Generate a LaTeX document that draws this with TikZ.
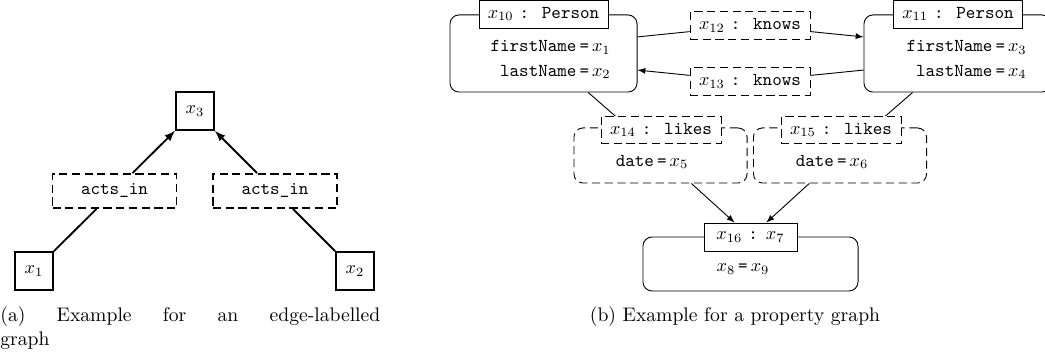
\documentclass[tikz,border=0pt]{standalone}
\usepackage{tikz}
\usetikzlibrary{arrows}
\tikzset{
  varbox/.style={draw, line width=1pt, minimum size=20.9pt, inner sep=0pt},
  edgebox/.style={draw, line width=1pt, dash pattern=on 4.5pt off 2.5pt, minimum width=68.2pt, minimum height=18.7pt, inner sep=0pt, font=\ttfamily},
  propbox/.style={draw, line width=0.5pt, rounded corners=5pt, minimum width=102.9pt, minimum height=42.4pt, inner sep=0pt},
  relbox/.style={propbox, dash pattern=on 4.5pt off 2.5pt, minimum width=95.2pt, minimum height=30.3pt},
  typebox/.style={draw, line width=0.5pt, fill=white, minimum width=71pt, minimum height=15.4pt, inner sep=0pt},
  reltypebox/.style={typebox, dash pattern=on 4.5pt off 2.5pt, minimum width=66pt, minimum height=14.9pt},
  proptext/.style={inner sep=0pt, align=right},
  captext/.style={inner sep=0pt, font=\fontsize{10.8}{13.2}\selectfont},
}

\begin{document}
\begin{tikzpicture}[x=0.55pt, y=-0.55pt, >=latex]
    \useasboundingbox (0,0) rectangle (1045,354);

    % (a) edge-labelled graph
    \node[varbox] (x3) at (195,111) {$x_3$};
    \node[varbox] (x1) at (34,271) {$x_1$};
    \node[varbox] (x2) at (355,271) {$x_2$};
    \node[edgebox] (a1) at (114.5,191) {acts\_in};
    \node[edgebox] (a2) at (275,191) {acts\_in};
    \draw[line width=1pt] (x1) -- (a1);
    \draw[line width=1pt, ->] (a1) -- (x3);
    \draw[line width=1pt] (x2) -- (a2);
    \draw[line width=1pt, ->] (a2) -- (x3);
    \node[captext, anchor=north west, text width=209pt, align=left] (capa) at (0,306)
        {\makebox[209pt][l]{(a)\hfill Example\hfill for\hfill an\hfill edge-labelled}\\graph};

    % (b) property graph: the boxes first, the type tags on top
    \node[propbox] (p10) at (543.5,53.5) {};
    \node[propbox] (p11) at (957.5,53.5) {};
    \node[relbox] (p14) at (660.5,155.5) {};
    \node[relbox] (p15) at (840,155.5) {};
    \node[propbox, minimum width=118.3pt, minimum height=29.7pt] (p16) at (750.5,264) {};
    \draw[line width=0.5pt] (p10) -- (p14);
    \draw[line width=0.5pt] (p11) -- (p15);

    \node[typebox] (l10) at (543.5,14) {$x_{10}$ \texttt{: Person}};
    \node[typebox] (l11) at (958,14) {$x_{11}$ \texttt{: Person}};
    \node[reltypebox] (l14) at (661,130) {$x_{14}$ \texttt{: likes}};
    \node[reltypebox] (l15) at (841,130) {$x_{15}$ \texttt{: likes}};
    \node[typebox, minimum width=51.2pt] (l16) at (750.5,237) {$x_{16}$ \texttt{:} $x_7$};

    \node[proptext, anchor=east] (t10) at (611,59.5)
        {\texttt{firstName}\,\texttt{=}\,$x_1$\\[1.5pt]\texttt{lastName}\,\texttt{=}\,$x_2$};
    \node[proptext, anchor=east] (t11) at (1027,59.5)
        {\texttt{firstName}\,\texttt{=}\,$x_3$\\[1.5pt]\texttt{lastName}\,\texttt{=}\,$x_4$};
    \node[proptext] (t14) at (652,162) {\texttt{date}\,\texttt{=}\,$x_5$};
    \node[proptext] (t15) at (832,162) {\texttt{date}\,\texttt{=}\,$x_6$};
    \node[proptext] (t16) at (743,269) {$x_8$\,\texttt{=}\,$x_9$};

    % knows edges between the two persons
    \node[reltypebox] (k12) at (750,25.5) {$x_{12}$ \texttt{: knows}};
    \node[reltypebox] (k13) at (750,81.5) {$x_{13}$ \texttt{: knows}};
    \draw[line width=0.5pt] (p10.10) -- (k12);
    \draw[line width=0.5pt, ->] (k12) -- (p11.170);
    \draw[line width=0.5pt] (p11.190) -- (k13);
    \draw[line width=0.5pt, ->] (k13) -- (p10.350);

    % likes edges into x16
    \draw[line width=0.5pt, ->] (p14) -- (l16);
    \draw[line width=0.5pt, ->] (p15) -- (l16);
    \node[captext, anchor=north] (capb) at (735,306) {(b) Example for a property graph};
\end{tikzpicture}
\end{document}
